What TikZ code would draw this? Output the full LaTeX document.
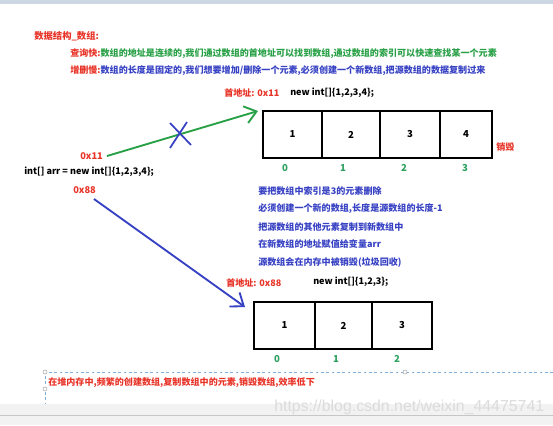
\documentclass[tikz,border=0pt]{standalone}
\usepackage{fontspec}
\setmainfont{Noto Sans CJK SC}
\newfontfamily\wmfont{Liberation Sans}
\usetikzlibrary{arrows.meta}
\definecolor{cred}{RGB}{232,52,40}
\definecolor{cgreen}{RGB}{40,160,70}
\definecolor{cblue}{RGB}{55,65,195}
\definecolor{cidx}{RGB}{45,160,95}
\definecolor{selblue}{RGB}{130,175,215}
\tikzset{
  txt/.style={anchor=west, inner sep=0pt, font=\bfseries\fontsize{6.8pt}{8pt}\selectfont},
  code/.style={anchor=west, inner sep=0pt, font=\bfseries\fontsize{6.8pt}{8pt}\selectfont},
  redtxt/.style={txt, text=cred},
  bluetxt/.style={txt, text=cblue},
  cell/.style={draw, line width=1.5pt, anchor=north west, inner sep=0pt, minimum height=35.25pt, font=\bfseries\fontsize{7.2pt}{9pt}\selectfont},
  idx/.style={inner sep=0pt, text=cidx, font=\bfseries\fontsize{7.2pt}{9pt}\selectfont},
  ptr/.style={line width=1.4pt, -{Straight Barb[length=8.5pt,width=13pt,line width=1.4pt]}},
  handle/.style={draw=gray!70, fill=white, line width=0.4pt, circle, inner sep=0pt, minimum size=3pt}
}
\begin{document}
\begin{tikzpicture}[x=0.75pt,y=-0.75pt]
\useasboundingbox (0,0) rectangle (553,425);
% window bands
\fill[fill={rgb,255:red,205;green,215;blue,228}] (0,0) rectangle (553,4);
\fill[gray!10] (0,404) rectangle (553,425);
\draw[gray!45, line width=0.6pt] (0,415) -- (553,415);
\node[anchor=west, inner sep=0pt, text=gray!28, font=\wmfont\fontsize{11.9pt}{13pt}\selectfont] (wm) at (274,407) {https://blog.csdn.net/weixin\_44475741};

% header text
\node[redtxt, font=\bfseries\fontsize{7pt}{8pt}\selectfont] (title) at (34,36) {数据结构\_数组:};
\node[txt] (l1) at (70,54) {\textcolor{cred}{查询快:}\textcolor{cgreen}{数组的地址是连续的,我们通过数组的首地址可以找到数组,通过数组的索引可以快速查找某一个元素}};
\node[txt] (l2) at (70,71) {\textcolor{cred}{增删慢:}\textcolor{cblue}{数组的长度是固定的,我们想要增加/删除一个元素,必须创建一个新数组,把源数组的数据复制过来}};

% first array
\node[redtxt] (addr1) at (224,93) {首地址: 0x11};
\node[code] (new1) at (290,93) {new int[]\{1,2,3,4\};};
\node[cell, minimum width=44.25pt] (a0) at (262,110) {1};
\node[cell, minimum width=43.5pt] (a1) at (321,110) {2};
\node[cell, minimum width=45pt] (a2) at (379,110) {3};
\node[cell, minimum width=39pt] (a3) at (439,110) {4};
\node[idx] (i0) at (285,168) {0};
\node[idx] (i1) at (343,168) {1};
\node[idx] (i2) at (404,168) {2};
\node[idx] (i3) at (465,168) {3};
\node[redtxt] (destroy) at (496,147) {销毁};

% variable
\node[redtxt, font=\bfseries\fontsize{7pt}{8pt}\selectfont] (p11) at (80,156) {0x11};
\node[code] (decl) at (24,172) {int[] arr = new int[]\{1,2,3,4\};};
\node[redtxt, font=\bfseries\fontsize{7pt}{8pt}\selectfont] (p88) at (73,190) {0x88};

\coordinate (g0) at (107,156);
\coordinate (g1) at (258,111);
\draw[ptr, draw=cgreen] (g0) -- (g1);
\draw[cblue, line width=1.3pt] (170,123) -- (191,145) (170,148) -- (187,122);

\coordinate (b0s) at (94,199);
\coordinate (b1s) at (245,307);
\draw[ptr, draw=cblue] (b0s) -- (b1s);

% explanation
\node[bluetxt] (e1) at (258,191) {要把数组中索引是3的元素删除};
\node[bluetxt] (e2) at (258,209) {必须创建一个新的数组,长度是源数组的长度-1};
\node[bluetxt] (e3) at (258,227) {把源数组的其他元素复制到新数组中};
\node[bluetxt] (e4) at (258,244) {在新数组的地址赋值给变量arr};
\node[bluetxt] (e5) at (258,262) {源数组会在内存中被销毁(垃圾回收)};

% second array
\node[redtxt] (addr2) at (226,283) {首地址: 0x88};
\node[code] (new2) at (313,282) {new int[]\{1,2,3\};};
\node[cell, minimum width=45.75pt] (b0) at (253,301) {1};
\node[cell, minimum width=42.75pt] (b1) at (314,301) {2};
\node[cell, minimum width=45pt] (b2) at (371,301) {3};
\node[idx] (j0) at (277,359) {0};
\node[idx] (j1) at (336,359) {1};
\node[idx] (j2) at (397,359) {2};

% selection box and bottom note
\draw[selblue, dashed, dash pattern=on 2pt off 2pt, line width=0.5pt] (553,372) -- (45,372) -- (45,404);
\node[handle] (h1) at (45,372) {};
\node[handle] (h2) at (405,372) {};
\node[handle] (h3) at (45,389) {};
\node[redtxt] (note) at (48,383) {在堆内存中,频繁的创建数组,复制数组中的元素,销毁数组,效率低下};
\end{tikzpicture}
\end{document}
